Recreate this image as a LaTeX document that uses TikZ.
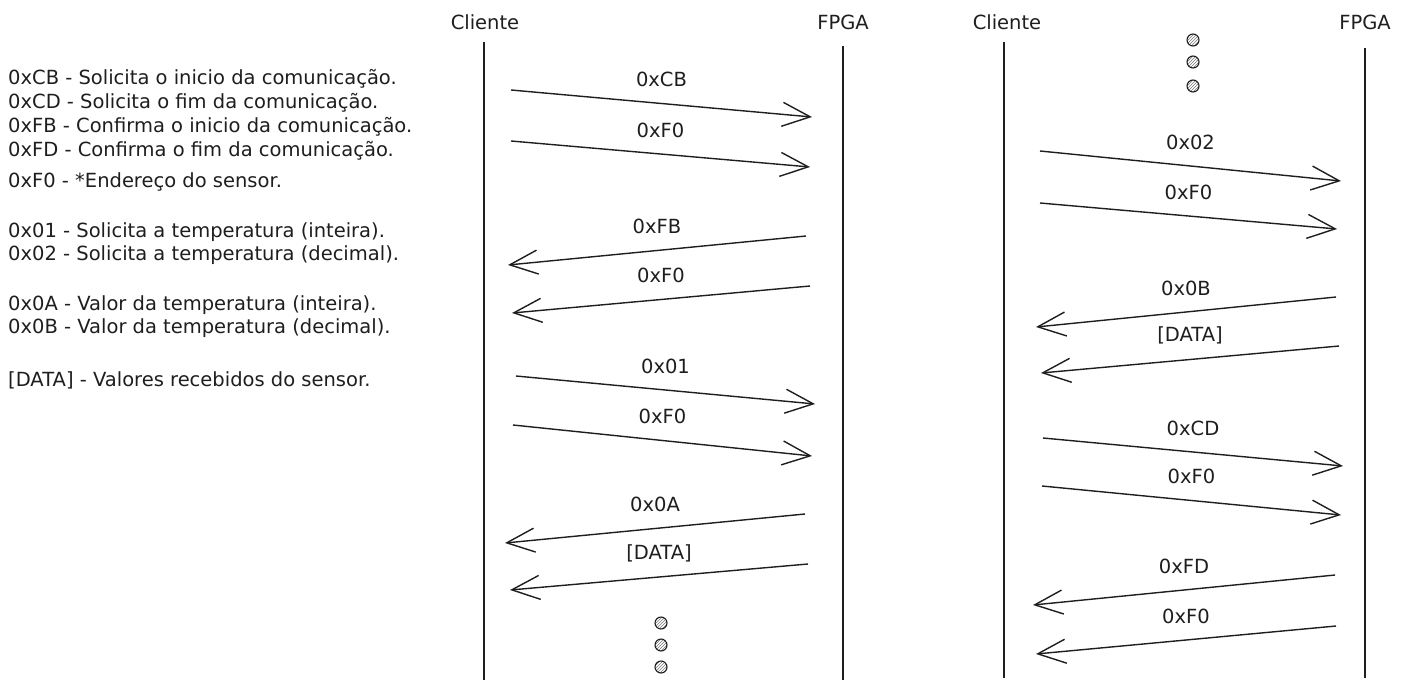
\documentclass[tikz,border=0pt]{standalone}
\usepackage{fontspec}
\setmainfont{DejaVu Sans}
\usetikzlibrary{arrows.meta,patterns}
\definecolor{ink}{HTML}{1e1e1e}
\tikzset{
  every node/.style={font=\fontsize{19.5}{23}\selectfont, text=ink},
  actor/.style={inner sep=1pt},
  lifeline/.style={line width=1.5pt, draw=ink},
  msg/.style={
    -{Straight Barb[length=28pt,width=24pt]},
    line width=1.4pt, draw=ink
  },
  msglabel/.style={yshift=24pt},
  legend/.style={anchor=west, inner sep=0pt},
  ellip/.style={
    circle, draw=ink, line width=1.1pt, minimum size=12pt, inner sep=0pt,
    pattern=north east lines, pattern color=ink!60
  },
}
\begin{document}
\begin{tikzpicture}[x=1pt,y=-1pt]
  \useasboundingbox (0,0) rectangle (1402,688);
  % legend
  \node[legend] (l1) at (8,79) {0xCB - Solicita o inicio da comunicação.};
  \node[legend] (l2) at (8,103) {0xCD - Solicita o fim da comunicação.};
  \node[legend] (l3) at (8,127) {0xFB - Confirma o inicio da comunicação.};
  \node[legend] (l4) at (8,151) {0xFD - Confirma o fim da comunicação.};
  \node[legend] (l5) at (8,182) {0xF0 - *Endereço do sensor.};
  \node[legend] (l6) at (8,232) {0x01 - Solicita a temperatura (inteira).};
  \node[legend] (l7) at (8,255) {0x02 - Solicita a temperatura (decimal).};
  \node[legend] (l8) at (8,305) {0x0A - Valor da temperatura (inteira).};
  \node[legend] (l9) at (8,328) {0x0B - Valor da temperatura (decimal).};
  \node[legend] (l10) at (8,380) {[DATA] - Valores recebidos do sensor.};
  % actors and lifelines
  \node[actor] (cliA) at (485,22) {Cliente};
  \node[actor] (fpgaA) at (843,22) {FPGA};
  \node[actor] (cliB) at (1007,22) {Cliente};
  \node[actor] (fpgaB) at (1365,22) {FPGA};
  \coordinate (cliAtop) at (484,42);   \coordinate (cliAbot) at (484,680);
  \coordinate (fpgaAtop) at (843,46);  \coordinate (fpgaAbot) at (843,680);
  \coordinate (cliBtop) at (1004,42);  \coordinate (cliBbot) at (1004,678);
  \coordinate (fpgaBtop) at (1365,48); \coordinate (fpgaBbot) at (1365,678);
  \draw[lifeline] (cliAtop) -- (cliAbot);
  \draw[lifeline] (fpgaAtop) -- (fpgaAbot);
  \draw[lifeline] (cliBtop) -- (cliBbot);
  \draw[lifeline] (fpgaBtop) -- (fpgaBbot);
  % messages
  \foreach \xa/\ya/\xb/\yb/\txt/\nm in {
      511/90/812/117/0xCB/a1, 511/141/810/167/0xF0/a2,
      806/236/508/265/0xFB/a3, 810/286/512/313/0xF0/a4,
      516/376/815/404/0x01/a5, 513/425/812/456/0xF0/a6,
      805/514/505/543/0x0A/a7, 808/564/510/590/{[DATA]}/a8,
      1040/151/1341/181/0x02/b1, 1040/203/1337/229/0xF0/b2,
      1336/297/1036/327/0x0B/b3, 1339/346/1041/373/{[DATA]}/b4,
      1043/438/1343/466/0xCD/b5, 1042/486/1341/515/0xF0/b6,
      1335/575/1033/605/0xFD/b7, 1336/626/1036/654/0xF0/b8}{
    \coordinate (\nm-s) at (\xa,\ya);
    \coordinate (\nm-e) at (\xb,\yb);
    \draw[msg] (\nm-s) -- node[msglabel] (\nm-l) {\txt} (\nm-e);
  }
  % continuation dots
  \node[ellip] (dA1) at (661,623) {};
  \node[ellip] (dA2) at (661,645) {};
  \node[ellip] (dA3) at (661,667) {};
  \node[ellip] (dB1) at (1193,40) {};
  \node[ellip] (dB2) at (1193,62) {};
  \node[ellip] (dB3) at (1193,86) {};
\end{tikzpicture}
\end{document}
